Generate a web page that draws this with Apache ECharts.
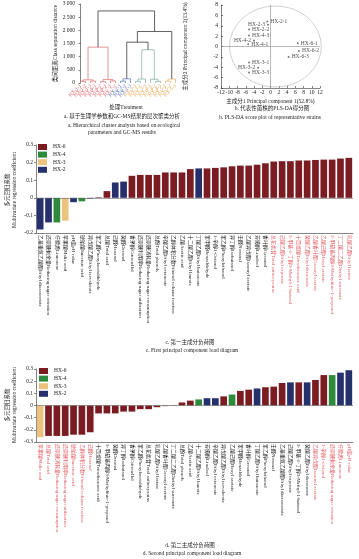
<!DOCTYPE html>
<html><head><meta charset="utf-8">
<script src="https://cdn.jsdelivr.net/npm/echarts@6/dist/echarts.min.js"></script>
<style>html,body{margin:0;padding:0;background:#fff}#c{width:359px;height:559px}</style>
</head><body><div id="c"></div>
<script>
// ---------- panel a: dendrogram ----------
const dendroLeaves = ["HX-1-1","HX-1-2","HX-1-3","HX-6-1","HX-6-2","HX-6-3","HX-7-1","HX-7-2",
  "HX-2-1","HX-2-2","HX-2-3","HX-3-1","HX-3-2","HX-3-3","HX-4-1","HX-4-2","HX-4-3","HX-5-1","HX-5-2","HX-5-3"];
const dendroLeafGroup = ['r','r','r','r','r','r','r','r','b','b','b','o','o','o','o','o','o','o','o','o'];
// [childA, childB, height, cluster]; ids < 20 are leaves, 20+k is the k-th merge
const dendroMerges = [
  [0,1,60,'r'],[2,3,70,'r'],[20,21,120,'r'],
  [4,5,50,'r'],[6,7,80,'r'],[23,24,130,'r'],
  [22,25,1362,'r'],
  [8,9,70,'b'],[27,10,160,'b'],
  [11,12,60,'t'],[29,13,150,'t'],
  [15,16,60,'t'],[14,31,140,'t'],
  [30,32,1261,'t'],
  [28,33,1551,'k'],
  [17,18,70,'o'],[35,19,150,'o'],
  [34,36,1955,'k'],
  [26,37,2736,'k']
];

// ---------- panel b: PLS-DA scores ----------
const scoreNames = ["HX-2-1","HX-2-3","HX-2-2","HX-4-3","HX-4-2","HX-4-1","HX-6-1","HX-6-2","HX-6-3","HX-3-1","HX-3-2","HX-3-3"];
const scoreX = [-0.8,-0.6,-5.2,-5.2,-4.0,-5.4,6.6,6.9,4.4,-5.2,-3.0,-5.2];
const scoreY = [4.8,4.2,3.3,2.1,1.1,0.45,0.65,-0.85,-2.0,-3.1,-4.1,-5.0];
const scoreEllipse = [1.2,0,11.1,7.8]; // cx, cy, rx, ry

// ---------- panel c: first component loadings ----------
const cLabels = ["乙基重氮乙酸酯Ethyl diazoacetate","还原糖剩余量Reducing sugar retention","柠檬烯Limonene","苹果酸Malic acid","pH值pH value",
 "琥珀酸Succinic acid","异戊酸乙酯Ethyl isovalerate","苯乙醛Phenylacetaldehyde","总酸Total acid","己醛Hexanal",
 "癸醛Decanal","香茅醇Citronellol","还原糖利用率Reducing sugar utilization","还原糖消耗量Reducing sugar consumption","总酚Total phenols",
 "辛酸乙酯Ethyl octanoate","乙醇体积分数Ethanol volume fraction","乙酸Acetic acid","十二酸乙酯Ethyl laurate","丁酸乙酯Ethyl butanoate",
 "苯甲醛Benzaldehyde","1-辛醇1-Octanol","苯乙醇Phenylethanol","异丁醇Isobutanol","壬醛Nonanal",
 "乙酸异戊酯Isoamyl acetate","芳樟醇Linalool","香叶醇Geraniol","总花色苷Total anthocyanins","己酸乙酯Ethyl caproate",
 "3-甲基-1-丁醇3-Methyl-1-butanol","十四烷酸Tetradecanoic acid","癸酸乙酯Ethyl decanoate","乙酸香叶酯Geranyl acetate","乙酸己酯Hexyl acetate",
 "3-甲硫基丙醇3-Methylthio-1-propanol","丁二酸二乙酯Diethyl succinate","乳酸乙酯Ethyl lactate"];
const cValues = [-0.18,-0.14,-0.14,-0.13,-0.025,-0.02,-0.004,0.003,0.038,0.087,0.092,0.125,0.13,0.13,0.13,0.144,0.144,0.144,0.163,0.167,
 0.167,0.17,0.173,0.179,0.183,0.183,0.188,0.196,0.206,0.208,0.208,0.212,0.212,0.215,0.217,0.217,0.223,0.227];
const cGroups = ["HX-2","HX-2","HX-4","HX-3","HX-2","HX-4","HX-2","HX-6","HX-6","HX-2","HX-2",
 "HX-6","HX-6","HX-6","HX-6","HX-6","HX-6","HX-6","HX-6","HX-2",
 "HX-6","HX-6","HX-6","HX-6","HX-6","HX-6","HX-6","HX-6","HX-6","HX-6","HX-6","HX-6","HX-6","HX-6","HX-6","HX-6","HX-6","HX-6"];
const cKeyLabels = [28,29,30,31,32,33,34,35,36,37];

// ---------- panel d: second component loadings ----------
const dLabels = ["苹果酸Malic acid","总酸Total acid","还原糖消耗量Reducing sugar consumption","还原糖利用率Reducing sugar utilization","琥珀酸Succinic acid",
 "乙醇体积分数Ethanol volume fraction","己醛Hexanal","十四烷酸Tetradecanoic acid","3-甲硫基丙醇3-Methylthio-1-propanol","癸醛Decanal",
 "异丁醇Isobutanol","香茅醇Citronellol","苯乙醛Phenylacetaldehyde","总花色苷Total anthocyanins","乳酸乙酯Ethyl lactate",
 "乙酸香叶酯Geranyl acetate","丁二酸二乙酯Diethyl succinate","总酚Total phenols","乙酸Acetic acid","十二酸乙酯Ethyl laurate",
 "芳樟醇Linalool","辛酸乙酯Ethyl octanoate","异戊酸乙酯Ethyl isovalerate","乙酸己酯Hexyl acetate","苯甲醛Benzaldehyde",
 "香叶醇Geraniol","丁酸乙酯Ethyl butanoate","苯乙醇Phenylethanol","壬醛Nonanal","乙基重氮乙酸酯Ethyl diazoacetate",
 "己酸乙酯Ethyl caproate","3-甲基-1-丁醇3-Methyl-1-butanol","癸酸乙酯Ethyl decanoate","乙酸异戊酯Isoamyl acetate","1-辛醇1-Octanol",
 "还原糖剩余量Reducing sugar retention","柠檬烯Limonene","pH值pH value"];
const dValues = [-0.26,-0.25,-0.25,-0.25,-0.24,-0.24,-0.22,-0.065,-0.065,-0.065,-0.05,-0.05,-0.03,-0.03,-0.014,-0.005,0.003,0.025,0.04,0.05,
 0.06,0.06,0.075,0.09,0.12,0.13,0.14,0.15,0.155,0.185,0.19,0.19,0.19,0.21,0.25,0.25,0.27,0.29];
const dGroups = ["HX-3","HX-6","HX-6","HX-6","HX-6","HX-6","HX-6","HX-6","HX-6","HX-6","HX-6","HX-6","HX-6","HX-6","HX-6","HX-6","HX-6","HX-6","HX-6",
 "HX-4","HX-2","HX-2","HX-6","HX-4","HX-6","HX-6","HX-2","HX-6","HX-6","HX-6","HX-2","HX-6","HX-2","HX-6","HX-6","HX-4","HX-2","HX-2"];
const dKeyLabels = [0,1,2,3,4,5,6,33,34,35,36,37];

const strainOrder = ["HX-6","HX-4","HX-3","HX-2"];

// ---------- styles ----------
const FONT = '"Liberation Serif","Noto Sans CJK SC",serif';
const strainColors = {"HX-6":"#7A1C22","HX-4":"#2E8B3C","HX-3":"#EBC37E","HX-2":"#26306C"};
const dendroColors = {r:"#E07A7A",b:"#6A86C6",t:"#8FB2AC",o:"#EBB878",k:"#3A3A3A"};
const leafLabelColors = {r:"#E05A5A",b:"#4A62B4",o:"#E3A54C"};
const KEY_RED = "#E2595E";
const TXT = "#222";

// dendrogram link geometry derived from the merge table
const nodeX = dendroLeaves.map((_, i) => i);
const nodeH = dendroLeaves.map(() => 0);
const clusterKeys = ['r','b','t','o','k'];
const linkData = [];
dendroMerges.forEach(([a,b,h,cl]) => {
  linkData.push([nodeX[a], nodeH[a], nodeX[b], nodeH[b], h, clusterKeys.indexOf(cl)]);
  nodeX.push((nodeX[a] + nodeX[b]) / 2);
  nodeH.push(h);
});

const labelSide = {"HX-2-3":"left","HX-4-2":"left","HX-3-2":"left"};
const scoreData = scoreNames.map((n, i) => ({
  name: n, value: [scoreX[i], scoreY[i]],
  label: {position: labelSide[n] || 'right'}
}));

function stackSeries(groups, values, xi, yi, stackName) {
  return strainOrder.map(s => ({
    name: s, type: 'bar', stack: stackName, xAxisIndex: xi, yAxisIndex: yi,
    barCategoryGap: '20%',
    itemStyle: {color: strainColors[s]},
    data: values.map((v, i) => groups[i] === s ? v : '-')
  }));
}

const tickFont = {fontSize: 5.5, color: TXT, fontFamily: FONT};
const axisLineStyle = {lineStyle: {color: '#333', width: 0.6}};

const chart = echarts.init(document.getElementById('c'), null, {width: 359, height: 559});

function txt(x, y, text, size, opts) {
  return Object.assign({
    type: 'text', x: x, y: y,
    style: {text: text, font: size + 'px ' + FONT, fill: TXT, textAlign: 'center', textVerticalAlign: 'middle', align: 'center', verticalAlign: 'middle'}
  }, opts || {});
}

const zeroLine = {silent: true, symbol: 'none', label: {show: false}, lineStyle: {color: '#666', width: 0.6, type: 'solid'}, data: [{yAxis: 0}]};
const barSeriesC = stackSeries(cGroups, cValues, 3, 2, 'c');
barSeriesC[0].markLine = zeroLine;
const barSeriesD = stackSeries(dGroups, dValues, 4, 3, 'd');
barSeriesD[0].markLine = zeroLine;

const legendCommon = {
  orient: 'vertical', data: strainOrder, itemWidth: 9, itemHeight: 6, itemGap: 1.6, icon: 'rect',
  padding: [1, 2], textStyle: {fontSize: 5.5, color: TXT, fontFamily: FONT, padding: [0, 0, 0, 1]}, selectedMode: false
};

chart.setOption({
  animation: false,
  textStyle: {fontFamily: FONT},
  grid: [
    {left: 78, top: 4, width: 100, height: 79},
    {left: 221, top: 5, width: 99, height: 83},
    {left: 36, top: 145, width: 317, height: 88},
    {left: 36, top: 369, width: 317, height: 73}
  ],
  legend: [
    Object.assign({left: 36, top: 143}, legendCommon),
    Object.assign({left: 37, top: 367}, legendCommon)
  ],
  xAxis: [
    {type: 'value', gridIndex: 0, position: 'top', min: -0.5, max: 19.5, show: false},
    {type: 'category', gridIndex: 0, position: 'bottom', data: dendroLeaves, axisLine: {show: false}, axisTick: {show: false},
     axisLabel: {rotate: 45, interval: 0, margin: 2, fontSize: 5, fontFamily: FONT,
       color: (v, i) => leafLabelColors[dendroLeafGroup[i]]}},
    {type: 'value', gridIndex: 1, min: -12, max: 12, interval: 2, splitLine: {show: false},
     axisLine: Object.assign({onZero: false}, axisLineStyle), axisTick: {inside: true, length: 2, lineStyle: {color: '#333', width: 0.6}},
     axisLabel: Object.assign({margin: 2}, tickFont),
     name: '主成分1 Principal component 1(52.8%)', nameLocation: 'middle', nameGap: 11,
     nameTextStyle: {fontSize: 5.5, color: TXT, fontFamily: FONT}},
    {type: 'category', gridIndex: 2, data: cLabels, position: 'bottom',
     axisLine: Object.assign({onZero: false}, axisLineStyle), axisTick: {length: 2, lineStyle: {color: '#333', width: 0.6}},
     axisLabel: {rotate: -90, interval: 0, margin: 2, fontSize: 5, fontFamily: FONT,
       color: (v, i) => cKeyLabels.indexOf(i) >= 0 ? KEY_RED : TXT}},
    {type: 'category', gridIndex: 3, data: dLabels, position: 'bottom',
     axisLine: Object.assign({onZero: false}, axisLineStyle), axisTick: {length: 2, lineStyle: {color: '#333', width: 0.6}},
     axisLabel: {rotate: -90, interval: 0, margin: 2, fontSize: 5, fontFamily: FONT,
       color: (v, i) => dKeyLabels.indexOf(i) >= 0 ? KEY_RED : TXT}}
  ],
  yAxis: [
    {type: 'value', gridIndex: 0, min: 0, max: 3000, interval: 500, splitLine: {show: false},
     axisLine: Object.assign({show: true}, axisLineStyle), axisTick: {show: true, length: 2, lineStyle: {color: '#333', width: 0.6}},
     axisLabel: Object.assign({margin: 3, formatter: v => v >= 1000 ? Math.floor(v / 1000) + ' ' + String(v % 1000).padStart(3, '0') : String(v)}, tickFont),
     name: '类间距离Class separation distance', nameLocation: 'middle', nameGap: 19,
     nameTextStyle: {fontSize: 5.5, color: TXT, fontFamily: FONT}},
    {type: 'value', gridIndex: 1, min: -8, max: 8, interval: 2, splitLine: {show: false},
     axisLine: Object.assign({onZero: false}, axisLineStyle), axisTick: {inside: true, length: 2, lineStyle: {color: '#333', width: 0.6}},
     axisLabel: Object.assign({margin: 3}, tickFont),
     name: '主成分2 Principal component 2(13.4%)', nameLocation: 'middle', nameGap: 33,
     nameTextStyle: {fontSize: 5.5, color: TXT, fontFamily: FONT}},
    {type: 'value', gridIndex: 2, min: -0.2, max: 0.3, interval: 0.1, splitLine: {show: false},
     axisLine: Object.assign({show: true}, axisLineStyle), axisTick: {show: true, length: 2, lineStyle: {color: '#333', width: 0.6}},
     axisLabel: Object.assign({margin: 3}, tickFont)},
    {type: 'value', gridIndex: 3, min: -0.3, max: 0.3, interval: 0.1, splitLine: {show: false},
     axisLine: Object.assign({show: true}, axisLineStyle), axisTick: {show: true, length: 2, lineStyle: {color: '#333', width: 0.6}},
     axisLabel: Object.assign({margin: 3}, tickFont)}
  ],
  series: [
    {
      type: 'custom', xAxisIndex: 0, yAxisIndex: 0, data: linkData, silent: true,
      encode: {x: [0, 2], y: [1, 3, 4]},
      renderItem: (params, api) => {
        const p1 = api.coord([api.value(0), api.value(1)]);
        const p2 = api.coord([api.value(0), api.value(4)]);
        const p3 = api.coord([api.value(2), api.value(4)]);
        const p4 = api.coord([api.value(2), api.value(3)]);
        return {type: 'polyline', shape: {points: [p1, p2, p3, p4]},
          style: {stroke: dendroColors[clusterKeys[api.value(5)]], fill: null, lineWidth: 0.8}};
      }
    },
    {
      type: 'custom', xAxisIndex: 2, yAxisIndex: 1, data: [scoreEllipse], silent: true, clip: false,
      encode: {x: 0, y: 1},
      renderItem: (params, api) => {
        const c = api.coord([api.value(0), api.value(1)]);
        const s = api.size([api.value(2), api.value(3)]);
        return {type: 'ellipse', shape: {cx: c[0], cy: c[1], rx: s[0], ry: s[1]},
          style: {stroke: '#BDBDBD', fill: null, lineWidth: 0.7}};
      }
    },
    {
      type: 'scatter', xAxisIndex: 2, yAxisIndex: 1, data: scoreData, symbolSize: 2,
      itemStyle: {color: '#555'},
      label: {show: true, formatter: '{b}', distance: 2, fontSize: 5.5, color: TXT, fontFamily: FONT},
      markLine: {silent: true, symbol: 'none', label: {show: false}, lineStyle: {color: '#8a8a8a', width: 0.6, type: 'solid'},
        data: [{xAxis: 0}, {yAxis: 0}]}
    }
  ].concat(barSeriesC, barSeriesD),
  graphic: [
    txt(126, 108, '处理Treatment', 5.5),
    txt(122, 117, 'a. 基于生理学参数和GC-MS结果的层次聚类分析', 5.5),
    txt(124, 126, 'a. Hierarchical cluster analysis based on ecological', 5.5),
    txt(122, 133, 'parameters and GC-MS results', 5.5),
    txt(272, 109, 'b. 代表性菌株的PLS-DA得分图', 5.5),
    txt(270, 118, 'b. PLS-DA score plot of representative strains', 5.5),
    txt(8, 190, '多元回归系数', 5.5, {rotation: Math.PI / 2}),
    txt(15, 190, 'Multivariate regression coefficient', 5.5, {rotation: Math.PI / 2}),
    txt(190, 343, 'c. 第一主成分负荷图', 5.5),
    txt(192, 351, 'c. First principal component load diagram', 5.5),
    txt(8, 405, '多元回归系数', 5.5, {rotation: Math.PI / 2}),
    txt(15, 405, 'Multivariate regression coefficient', 5.5, {rotation: Math.PI / 2}),
    txt(190, 546, 'd. 第二主成分负荷图', 5.5),
    txt(192, 554, 'd. Second principal component load diagram', 5.5)
  ]
});
</script></body></html>
